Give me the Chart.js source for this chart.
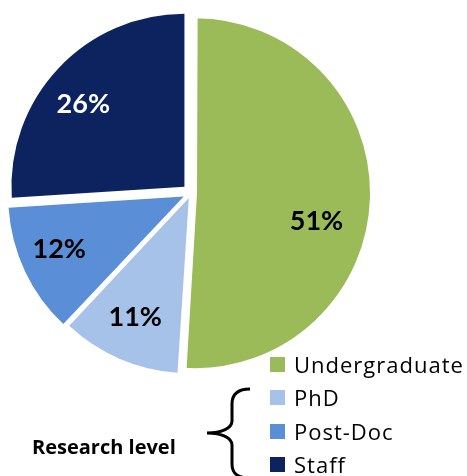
<!DOCTYPE html>
<html>
<head>
<meta charset="utf-8">
<script src="https://cdn.jsdelivr.net/npm/chart.js@4.4.1/dist/chart.umd.min.js"></script>
<style>
  html, body { margin: 0; padding: 0; background: #fff; }
  #wrap { position: relative; width: 467px; height: 476px; overflow: hidden; }
  #pie { position: absolute; left: 0; top: 0; }
  #legend { position: absolute; left: 270px; top: 348px; font-family: 'Open Sans', sans-serif; font-size: 22px; color: #000; letter-spacing: 1px; }
  .row { position: relative; height: 33.3px; line-height: 33px; padding-left: 24px; white-space: nowrap; }
  .row .box { position: absolute; left: 0; top: 9px; width: 15px; height: 15px; }
  #group { position: absolute; left: 32px; top: 437px; font-family: 'Open Sans', sans-serif; font-weight: bold; font-size: 20px; line-height: 20px; color: #000; white-space: nowrap; }
  #brace { position: absolute; left: 0; top: 0; }
</style>
</head>
<body>
<div id="wrap">
  <canvas id="pie" width="467" height="476"></canvas>
  <svg id="brace" width="467" height="476">
    <path d="M250 389 C238 389 232 394 232 404 L232 421 C232 428 222 433 207 433 C222 433 232 438 232 445 L232 464 C232 474 238 478 250 478" fill="none" stroke="#000" stroke-width="3"/>
  </svg>
  <div id="group"></div>
  <div id="legend"></div>
</div>
<script>
// données du graphique
var categories = ['Undergraduate', 'PhD', 'Post-Doc', 'Staff'];
var shares = [51, 11, 12, 26];
var groupLabel = 'Research level';

// couleurs
var sliceColors = ['#9BBB59', '#A6C2E8', '#5A8ED6', '#0D2360'];
var labelColors = ['#000', '#000', '#000', '#fff'];

// placement des étiquettes (fraction du rayon, rotation en degrés)
var labelDepth = [0.72, 0.75, 0.78, 0.76];
var labelTurn = [11, 1, 2.5, -3.5];

// légende HTML
var legendEl = document.getElementById('legend');
categories.forEach(function (name, i) {
  var row = document.createElement('div');
  row.className = 'row';
  var box = document.createElement('span');
  box.className = 'box';
  box.style.background = sliceColors[i];
  row.appendChild(box);
  row.appendChild(document.createTextNode(name));
  legendEl.appendChild(row);
});
document.getElementById('group').textContent = groupLabel;

// étiquettes de pourcentage dans les parts
var pctLabels = {
  id: 'pctLabels',
  afterDatasetsDraw: function (chart) {
    var ctx = chart.ctx;
    var meta = chart.getDatasetMeta(0);
    ctx.save();
    ctx.font = 'bold 27px Lato';
    ctx.textAlign = 'center';
    ctx.textBaseline = 'middle';
    meta.data.forEach(function (arc, i) {
      var p = arc.getProps(['x', 'y', 'startAngle', 'endAngle', 'outerRadius'], true);
      var off = (arc.options.offset || 0) / 4;
      var mid = (p.startAngle + p.endAngle) / 2;
      var a = mid + labelTurn[i] * Math.PI / 180;
      var r = p.outerRadius * labelDepth[i];
      var x = p.x + Math.cos(mid) * off + Math.cos(a) * r;
      var y = p.y + Math.sin(mid) * off + Math.sin(a) * r;
      ctx.fillStyle = labelColors[i];
      ctx.fillText(shares[i] + '%', x, y + 1);
    });
    ctx.restore();
  }
};

var pieCtx = document.getElementById('pie').getContext('2d');
var pieChart = new Chart(pieCtx, {
  type: 'pie',
  data: {
    labels: categories,
    datasets: [{
      data: shares,
      backgroundColor: sliceColors,
      borderColor: '#fff',
      borderWidth: [4, 0, 0, 0],
      offset: [16, 22, 32, 36],
      hoverOffset: 0
    }]
  },
  options: {
    responsive: false,
    animation: false,
    events: [],
    radius: 173,
    layout: {
      padding: { left: 0, top: 0, right: 85, bottom: 90 }
    },
    plugins: {
      legend: { display: false },
      tooltip: { enabled: false }
    }
  },
  plugins: [pctLabels]
});
</script>
</body>
</html>
